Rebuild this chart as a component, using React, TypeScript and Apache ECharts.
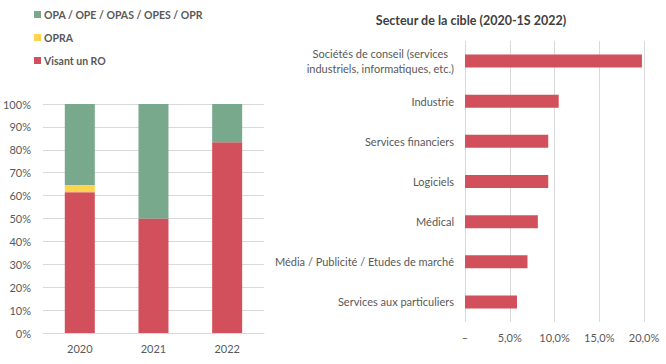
import React, { useEffect, useRef } from "react";
import * as echarts from "echarts";

const years = ["2020", "2021", "2022"];
const visantRO = [61.5, 50.0, 83.3];
const opra = [3.1, 0, 0];
const opaOpe = [35.4, 50.0, 16.7];

const sectors = [
  "Sociétés de conseil (services industriels, informatiques, etc.)",
  "Industrie",
  "Services financiers",
  "Logiciels",
  "Médical",
  "Média / Publicité / Etudes de marché",
  "Services aux particuliers",
];
const sectorValues = [19.77, 10.47, 9.3, 9.3, 8.14, 6.98, 5.81];

const GREEN = "#79A98D";
const YELLOW = "#FDD34F";
const RED = "#D1505B";
const TXT = "#595959";
const GRID = "#D9D9D9";
const FONT = "Lato, 'Open Sans', sans-serif";

export default function App() {
  const ref = useRef<HTMLDivElement>(null);
  useEffect(() => {
    if (!ref.current) return;
    const chart = echarts.init(ref.current, null, { renderer: "svg" });
    const revSectors = [...sectors].reverse();
    const revValues = [...sectorValues].reverse();
    chart.setOption({
      animation: false,
      textStyle: { fontFamily: FONT },
      title: {
        text: "Secteur de la cible (2020-1S 2022)",
        left: 466,
        top: 9,
        textAlign: "center",
        textStyle: { fontSize: 12.5, fontWeight: "bold", color: "#404040", fontFamily: FONT },
      },
      legend: {
        orient: "vertical",
        left: 29,
        top: 3,
        itemWidth: 7,
        itemHeight: 7,
        itemGap: 10,
        icon: "rect",
        data: ["OPA / OPE / OPAS / OPES / OPR", "OPRA", "Visant un RO"],
        textStyle: { fontSize: 10.5, fontWeight: "bold", color: TXT, fontFamily: FONT, padding: [0, 0, 0, -2], lineHeight: 13 },
      },
      grid: [
        { left: 42, width: 222, top: 104, bottom: 31, containLabel: false },
        { left: 465, right: 22, top: 41, bottom: 42, containLabel: false },
      ],
      xAxis: [
        {
          type: "category",
          gridIndex: 0,
          data: years,
          axisLine: { show: true, lineStyle: { color: GRID } },
          axisTick: { show: false },
          axisLabel: { color: TXT, fontSize: 11, margin: 10, fontFamily: FONT },
        },
        {
          type: "value",
          gridIndex: 1,
          min: 0,
          max: 20,
          interval: 5,
          axisLine: { show: false },
          axisTick: { show: false },
          splitLine: { show: true, lineStyle: { color: GRID } },
          axisLabel: {
            color: TXT,
            fontSize: 11,
            margin: 10,
            fontFamily: FONT,
            formatter: (v: number) => (v === 0 ? "–" : v.toFixed(1).replace(".", ",") + "%"),
          },
        },
      ],
      yAxis: [
        {
          type: "value",
          gridIndex: 0,
          min: 0,
          max: 100,
          interval: 10,
          axisLine: { show: false },
          axisTick: { show: false },
          splitLine: { show: true, lineStyle: { color: GRID } },
          axisLabel: { color: TXT, fontSize: 11, margin: 12, fontFamily: FONT, formatter: "{value}%" },
        },
        {
          type: "category",
          gridIndex: 1,
          data: revSectors,
          axisLine: { show: false },
          axisTick: { show: false },
          axisLabel: {
            color: TXT,
            fontSize: 11,
            margin: 11,
            fontFamily: FONT,
            lineHeight: 15,
            formatter: (v: string) =>
              v.startsWith("Sociétés")
                ? "{c|Sociétés de conseil (services}\n{c|industriels, informatiques, etc.)}"
                : v,
            rich: { c: { align: "center", color: TXT, fontSize: 11, fontFamily: FONT, lineHeight: 15 } },
          },
        },
      ],
      series: [
        {
          name: "Visant un RO",
          type: "bar",
          stack: "a",
          xAxisIndex: 0,
          yAxisIndex: 0,
          barWidth: 30,
          data: visantRO,
          itemStyle: { color: RED },
        },
        {
          name: "OPRA",
          type: "bar",
          stack: "a",
          xAxisIndex: 0,
          yAxisIndex: 0,
          barWidth: 30,
          data: opra,
          itemStyle: { color: YELLOW },
        },
        {
          name: "OPA / OPE / OPAS / OPES / OPR",
          type: "bar",
          stack: "a",
          xAxisIndex: 0,
          yAxisIndex: 0,
          barWidth: 30,
          data: opaOpe,
          itemStyle: { color: GREEN },
        },
        {
          name: "Secteur",
          type: "bar",
          xAxisIndex: 1,
          yAxisIndex: 1,
          barWidth: 13,
          data: revValues,
          itemStyle: { color: RED },
        },
      ],
    });
    return () => chart.dispose();
  }, []);
  return (
    <div
      ref={ref}
      style={{ position: "fixed", left: 0, top: 0, width: 666, height: 364, background: "#fff" }}
    />
  );
}
